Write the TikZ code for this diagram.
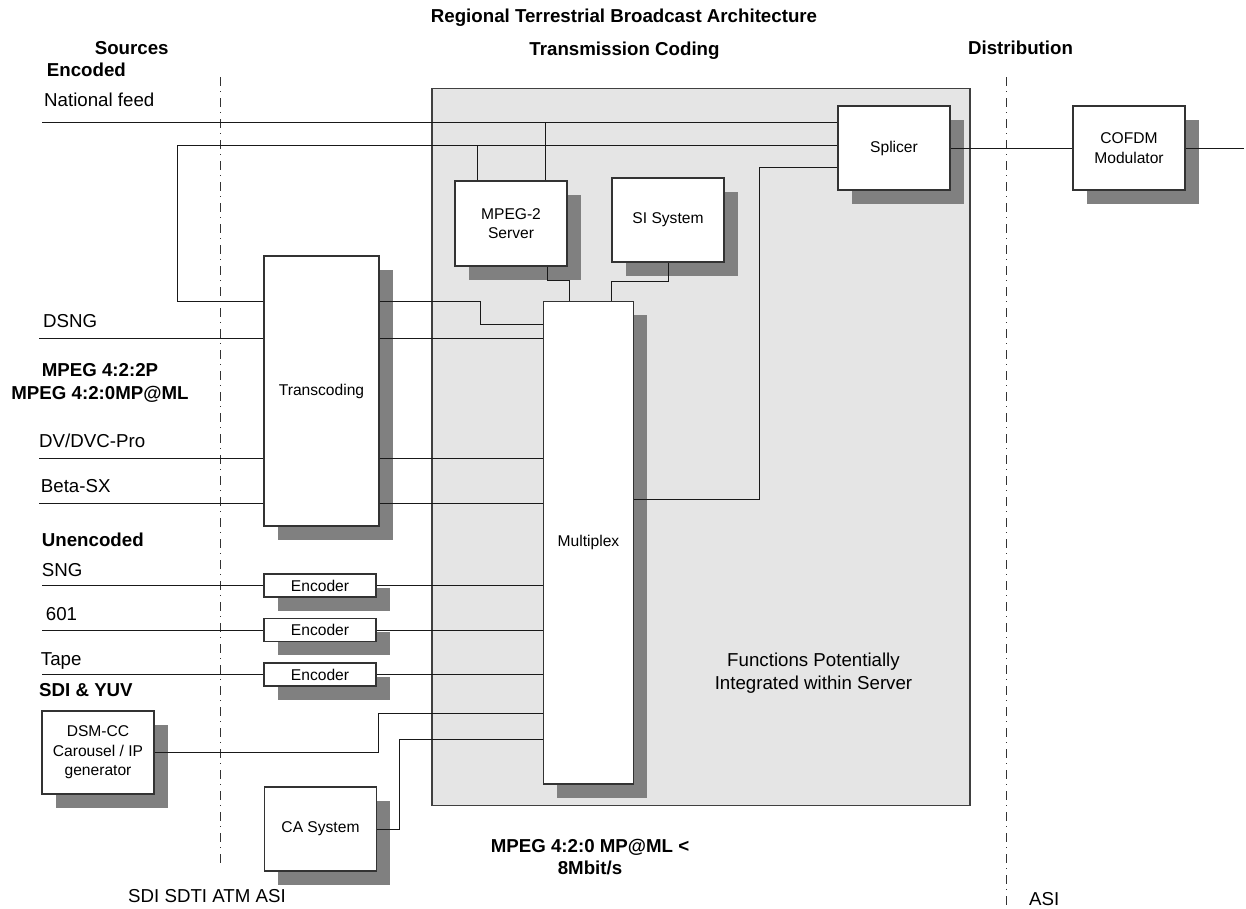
\documentclass[tikz,border=0pt]{standalone}
\usepackage{fontspec}
\setmainfont{Liberation Sans}
\usepackage{tikz}
\usetikzlibrary{shadows,calc}

\newcommand{\lblfont}{\fontsize{18.7pt}{22.5pt}\selectfont}
\newcommand{\boxfont}{\fontsize{15.6pt}{19.5pt}\selectfont}

\tikzset{
  unit/.style={draw=black!80, line width=1.1pt, fill=white, inner sep=1pt, align=center,
    font=\boxfont, minimum width=112pt,
    drop shadow={shadow xshift=13.5pt, shadow yshift=-13.5pt, fill=black!50, opacity=1}},
  lbl/.style={inner sep=0pt, font=\lblfont, anchor=base west},
  hdr/.style={inner sep=0pt, font=\lblfont\bfseries, anchor=base},
  link/.style={line width=0.9pt, draw=black!90},
  border/.style={line width=0.9pt, draw=black!80, dash pattern=on 9pt off 5pt on 1pt off 6pt},
}

\begin{document}
\begin{tikzpicture}[x=1pt, y=-1pt]
    \useasboundingbox (0,0) rectangle (1246,908);

    % Server region
    \node[draw=black!75, line width=1.2pt, fill=black!10, minimum width=538pt, minimum height=717pt, inner sep=0pt] (core) at (701,447.3) {};

    % Boundaries
    \coordinate (srcA) at (220.5,77);
    \coordinate (srcB) at (220.5,864);
    \coordinate (distA) at (1006,77);
    \coordinate (distB) at (1006,908);
    \draw[border] (srcA) -- (srcB);
    \draw[border] (distA) -- (distB);

    % Blocks
    \node[unit, minimum height=84pt] (splicer) at (894,148) {Splicer};
    \node[unit, minimum height=84pt] (cofdm) at (1129,148) {COFDM\\Modulator};
    \node[unit, minimum height=85pt] (server) at (511,223.5) {MPEG-2\\Server};
    \node[unit, minimum height=84pt] (si) at (668,220) {SI System};
    \node[unit, minimum width=115pt, minimum height=270pt] (trans) at (321.5,391) {Transcoding};
    \node[unit, minimum width=90pt, minimum height=482.5pt] (mux) at (588.5,542.75) {Multiplex};
    \node[unit, minimum height=23pt] (enc1) at (320,585.5) {Encoder};
    \node[unit, minimum height=23pt] (enc2) at (320,630) {Encoder};
    \node[unit, minimum height=23pt] (enc3) at (320,674.5) {Encoder};
    \node[unit, minimum height=83pt] (dsm) at (98,752.5) {DSM-CC\\Carousel / IP\\generator};
    \node[unit, minimum height=84pt] (ca) at (320.5,829) {CA System};

    % National feed
    \coordinate (in-nat) at (42,122);
    \draw[link] (in-nat) -- (in-nat -| splicer.west);
    \draw[link] (545,0 |- server.north) -- (545,122);

    % Transcoding loop to Splicer
    \draw[link] (trans.west |- 0,301) -| (177,145) -- (177,145 -| splicer.west);
    \draw[link] (477,0 |- server.north) -- (477,145);

    % Server and SI into Multiplex
    \draw[link] (547,0 |- server.south) -- (547,280) -| (569,0 |- mux.north);
    \draw[link] (668,0 |- si.south) -- (668,281) -| (611,0 |- mux.north);

    % Multiplex to Splicer, Splicer to COFDM
    \draw[link] (mux.east |- 0,499) -| (759,167) -- (759,167 -| splicer.west);
    \draw[link] (splicer.east) -- (cofdm.west);
    \coordinate (out) at (1244,148);
    \draw[link] (cofdm.east) -- (out);

    % Encoded inputs
    \draw[link] (trans.east |- 0,301.7) -- (480,301.7) |- (mux.west |- 0,324);
    \foreach \nm/\yy in {dsng/338.5, dv/458.5, beta/503.5} {
        \coordinate (in-\nm) at (39,\yy);
        \draw[link] (in-\nm) -- (in-\nm -| trans.west);
        \draw[link] (in-\nm -| trans.east) -- (in-\nm -| mux.west);
    }

    % Unencoded inputs
    \foreach \enc/\nm in {enc1/sng, enc2/601, enc3/tape} {
        \coordinate (in-\nm) at (42,0 |- \enc.west);
        \draw[link] (in-\nm) -- (\enc.west);
        \draw[link] (\enc.east) -- (\enc.east -| mux.west);
    }

    % DSM-CC and CA
    \draw[link] (dsm.east) -| (378,713) -- (378,713 -| mux.west);
    \draw[link] (ca.east) -| (399,739) -- (399,739 -| mux.west);

    % Headings
    \node[hdr] (title) at (624,22.3) {Regional Terrestrial Broadcast Architecture};
    \node[hdr] (hsrc) at (131.7,54.5) {Sources};
    \node[hdr] (htx) at (624.5,55) {Transmission Coding};
    \node[hdr] (hdist) at (1020.5,54.5) {Distribution};

    % Source labels
    \node[lbl, font=\lblfont\bfseries] (lenc) at (46.7,76.3) {Encoded};
    \node[lbl] (lnat) at (44,106.5) {National feed};
    \node[lbl] (ldsng) at (43,327.3) {DSNG};
    \node[font=\lblfont\bfseries, align=center, inner sep=0pt] (lmpeg) at (100,383) {MPEG 4:2:2P\\MPEG 4:2:0MP@ML};
    \node[lbl] (ldv) at (39,447.3) {DV/DVC-Pro};
    \node[lbl] (lbeta) at (40.7,492.3) {Beta-SX};
    \node[lbl, font=\lblfont\bfseries] (lunenc) at (41.7,546) {Unencoded};
    \node[lbl] (lsng) at (41.7,576) {SNG};
    \node[lbl] (l601) at (45.7,620) {601};
    \node[lbl] (ltape) at (40.7,665) {Tape};
    \node[lbl, font=\lblfont\bfseries] (lsdi) at (39,696.7) {SDI \& YUV};

    % Other labels
    \node[font=\lblfont, align=center, inner sep=0pt] (lfunc) at (813.5,673.4) {Functions Potentially\\Integrated within Server};
    \node[font=\lblfont\bfseries, align=center, inner sep=0pt] (lrate) at (590,857) {MPEG 4:2:0 MP@ML <\\8Mbit/s};
    \node[lbl] (lbot) at (128,902) {SDI SDTI ATM ASI};
    \node[lbl] (lasi) at (1029,905) {ASI};
\end{tikzpicture}
\end{document}
